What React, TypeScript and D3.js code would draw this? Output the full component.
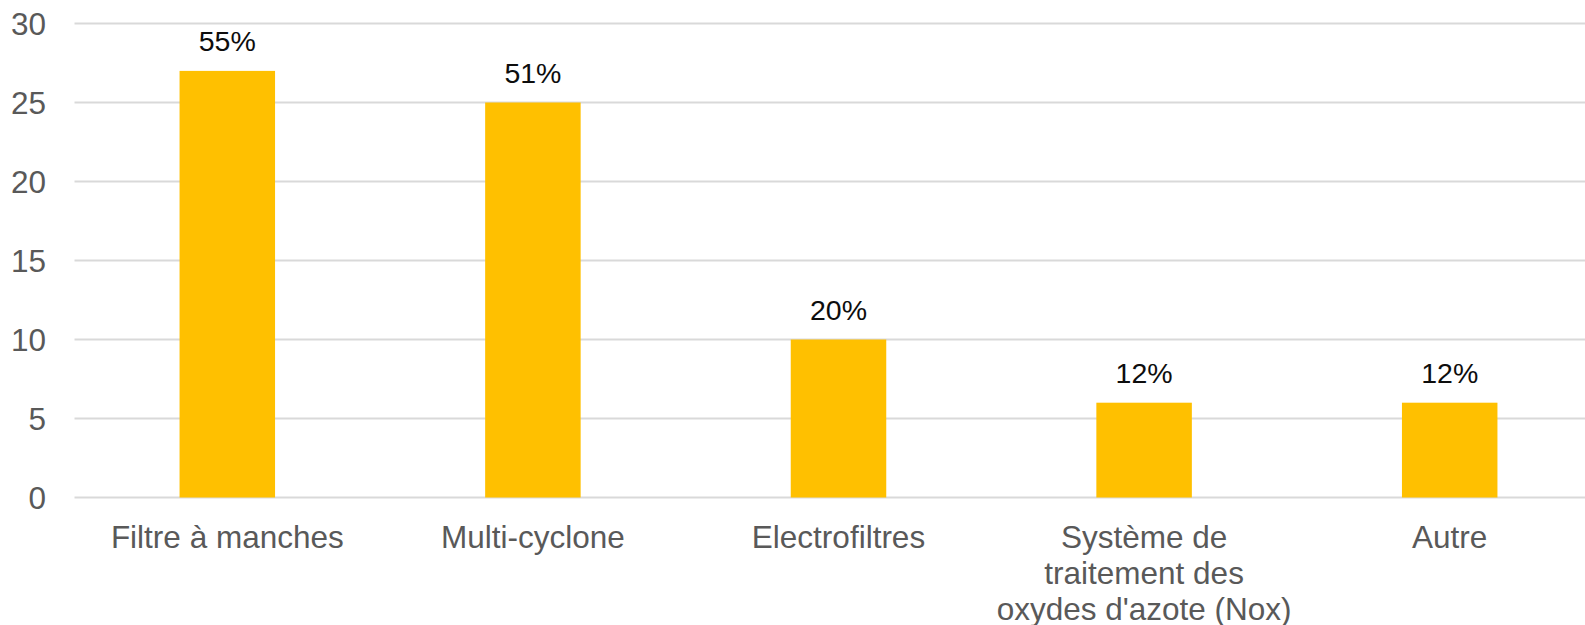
import React from "react";
import * as d3 from "d3";

// Systèmes de traitement des fumées déclarés (nombre de réponses)
const categories = [
  "Filtre à manches",
  "Multi-cyclone",
  "Electrofiltres",
  "Système de\ntraitement des\noxydes d'azote (Nox)",
  "Autre",
];
const counts = [27, 25, 10, 6, 6];
const respondents = 49;
const yTicks = [0, 5, 10, 15, 20, 25, 30];

const W = 1585;
const H = 625;
const FONT = "'Liberation Sans', Arial, Helvetica, sans-serif";

export default function App() {
  const x = d3
    .scaleBand<string>()
    .domain(categories)
    .range([74.5, 1602.5])
    .paddingInner(0.6875)
    .paddingOuter(0.34375);
  const y = d3.scaleLinear().domain([0, 30]).range([497.5, 23.5]);
  const [x0, x1] = x.range();

  return (
    <div style={{ position: "absolute", left: 0, top: 0 }}>
      <svg width={W} height={H} style={{ display: "block", background: "#fff" }}>
        <g>
          {yTicks.map((t) => (
            <g key={t}>
              <line x1={x0} x2={x1} y1={y(t)} y2={y(t)} stroke="#d9d9d9" strokeWidth={2} />
              <text
                x={46}
                y={y(t)}
                dy="0.35em"
                textAnchor="end"
                fontFamily={FONT}
                fontSize={31.5}
                fill="#595959"
              >
                {t}
              </text>
            </g>
          ))}
        </g>
        <g>
          {categories.map((c, i) => {
            const bx = x(c)!;
            const by = y(counts[i]);
            const cx = bx + x.bandwidth() / 2;
            const pct = Math.round((counts[i] / respondents) * 100);
            return (
              <g key={c}>
                <rect x={bx} y={by} width={x.bandwidth()} height={y(0) - by} fill="#ffc000" />
                <text
                  x={cx}
                  y={by - 20}
                  textAnchor="middle"
                  fontFamily={FONT}
                  fontSize={28.5}
                  fill="#0d0d0d"
                >
                  {pct}%
                </text>
                <text
                  x={cx}
                  y={y(0) + 50}
                  textAnchor="middle"
                  fontFamily={FONT}
                  fontSize={31.5}
                  fill="#595959"
                >
                  {c.split("\n").map((line, j) => (
                    <tspan key={j} x={cx} dy={j === 0 ? 0 : 36}>
                      {line}
                    </tspan>
                  ))}
                </text>
              </g>
            );
          })}
        </g>
      </svg>
    </div>
  );
}
